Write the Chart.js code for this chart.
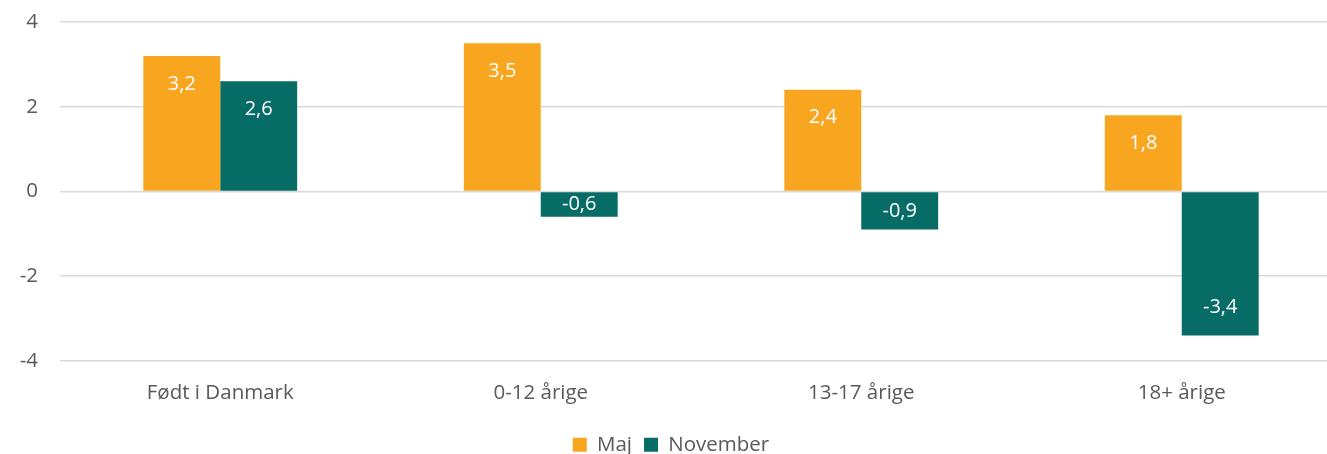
<!DOCTYPE html>
<html>
<head>
<meta charset="utf-8">
<script src="https://cdn.jsdelivr.net/npm/chart.js@4"></script>
<style>
  html, body { margin: 0; padding: 0; background: #fff; overflow: hidden; }
  #wrap { width: 1342px; height: 454px; position: relative; }
</style>
</head>
<body>
<div id="wrap"><canvas id="chart"></canvas></div>
<script>
const categories = ["Født i Danmark", "0-12 årige", "13-17 årige", "18+ årige"];
const majValues = [3.2, 3.5, 2.4, 1.8];
const novemberValues = [2.6, -0.6, -0.9, -3.4];
const yTicks = [-4, -2, 0, 2, 4];

const textColor = "#595959";
const fontFamily = "'Open Sans', Lato, sans-serif";

// labels inside the end of each bar, white text
const barLabels = {
    id: "barLabels",
    afterDatasetsDraw(chart) {
        const ctx = chart.ctx;
        ctx.save();
        ctx.fillStyle = "#ffffff";
        ctx.font = "20px " + fontFamily;
        ctx.textAlign = "center";
        ctx.textBaseline = "middle";
        chart.data.datasets.forEach((ds, i) => {
            chart.getDatasetMeta(i).data.forEach((bar, j) => {
                const v = ds.data[j];
                const h = Math.abs(bar.base - bar.y);
                const off = Math.min(28, h / 2);
                const y = v >= 0 ? bar.y + off : bar.y - off;
                ctx.fillText(String(v).replace(".", ","), bar.x, y);
            });
        });
        ctx.restore();
    }
};

new Chart(document.getElementById("chart"), {
    type: "bar",
    data: {
        labels: categories,
        datasets: [
            { label: "Maj", data: majValues, backgroundColor: "#F8A61F", barPercentage: 1, categoryPercentage: 0.48 },
            { label: "November", data: novemberValues, backgroundColor: "#066C65", barPercentage: 1, categoryPercentage: 0.48 }
        ]
    },
    options: {
        responsive: true,
        maintainAspectRatio: false,
        animation: false,
        layout: { padding: { top: 22, right: 0, left: 0, bottom: -11 } },
        plugins: {
            tooltip: { enabled: false },
            legend: {
                position: "bottom",
                labels: {
                    color: textColor,
                    font: { family: fontFamily, size: 20.5 },
                    boxWidth: 14,
                    boxHeight: 14,
                    padding: 12
                }
            }
        },
        scales: {
            x: {
                afterFit(axis) { axis.height += 5; },
                grid: { display: false },
                border: { display: false },
                ticks: { color: textColor, font: { family: fontFamily, size: 20.5 }, padding: 12 }
            },
            y: {
                min: -4,
                max: 4,
                afterFit(axis) { axis.width = 60; axis.paddingTop = 0; axis.paddingBottom = 0; },
                afterBuildTicks(axis) { axis.ticks = yTicks.map(v => ({ value: v })); },
                grid: { color: "#d9d9d9", lineWidth: 1.5, drawTicks: false },
                border: { display: false },
                ticks: { color: textColor, font: { family: fontFamily, size: 20.5 }, padding: 22 }
            }
        }
    },
    plugins: [barLabels]
});
</script>
</body>
</html>
